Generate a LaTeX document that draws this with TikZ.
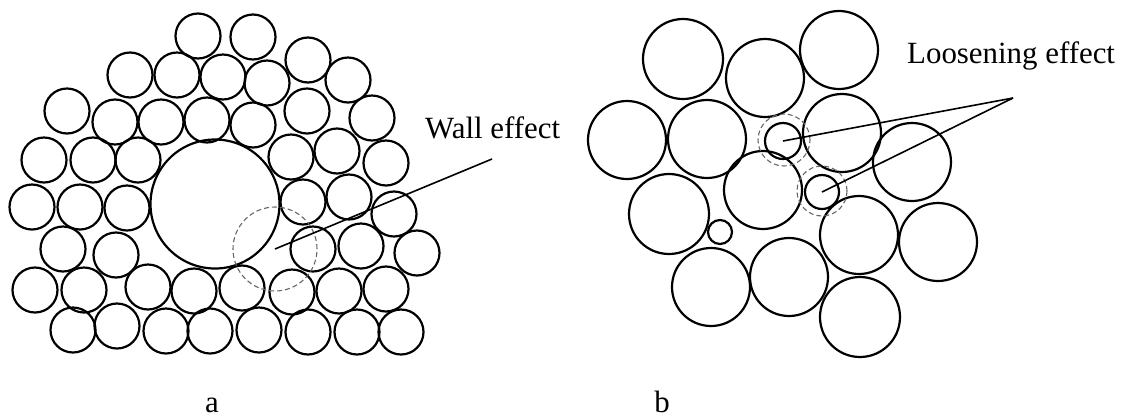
\documentclass[tikz,border=0pt]{standalone}
\usepackage{fontspec}
\setmainfont{Liberation Serif}
\begin{document}
\begin{tikzpicture}[x=1bp,y=-1bp,
  ball/.style={circle, draw, line width=2.2bp, inner sep=0pt, minimum size=#1},
  zone/.style={circle, draw=gray!80!black, dashed, dash pattern=on 5bp off 3bp, line width=1.1bp, inner sep=0pt, minimum size=#1},
  leader/.style={line width=1.6bp},
  lbl/.style={font=\fontsize{31}{36}\selectfont, inner sep=0pt}]
\useasboundingbox (0,0) rectangle (1131,417);
% ---- panel a: small equal spheres ----
\foreach \x/\y [count=\i] in {
 198/36,253/37,
 130/75,177/75,223/77,267/83,308/60,348/80,
 67/111,115/122,161/122,207/120,253/125,307/111,372/118,
 44/160,93/160,138/160,291/157,337/151,386/163,
 32/207,80/207,127/208,303/202,349/197,394/214,
 63/249,116/255,313/249,361/246,417/253,
 35/290,84/290,148/287,194/291,242/288,292/292,339/291,386/289,
 73/330,117/326,166/331,210/331,259/330,308/332,357/332,401/332}
  \node[ball=45bp] (a\i) at (\x,\y) {};
\node[ball=129bp] (big) at (215,204) {};
\node[zone=84bp] (wz) at (275,249) {};
\coordinate (wallend) at (492,159);
\draw[leader] (wz.center) -- (wallend);
\node[lbl, anchor=base west] (wall) at (425,138) {Wall effect};
% ---- panel b: large spheres with small ones ----
\foreach \x/\y/\d [count=\i] in {
 683/59/80, 765/78/78, 839/50/78,
 627/140/78, 707/139/78, 842/133/78, 912/162/78,
 669/214/80, 763/190/78,
 711/287/78, 789/277/78, 859/235/78, 938/242/78,
 860/317/80}
  \node[ball=\d bp] (b\i) at (\x,\y) {};
\node[ball=24bp] (tiny) at (720,232) {};
\node[ball=36bp] (s1) at (783,141) {};
\node[ball=34bp] (s2) at (822,192) {};
\node[zone=52bp] (z1) at (784,140) {};
\node[zone=50bp] (z2) at (822,191) {};
\coordinate (lend) at (1013,98);
\draw[leader] (s1.center) -- (lend);
\draw[leader] (s2.center) -- (lend);
\node[lbl, anchor=base west] (loose) at (907,63) {Loosening effect};
% ---- captions ----
\node[lbl, anchor=base] (capa) at (212,412) {a};
\node[lbl, anchor=base] (capb) at (662,412) {b};
\end{tikzpicture}
\end{document}
